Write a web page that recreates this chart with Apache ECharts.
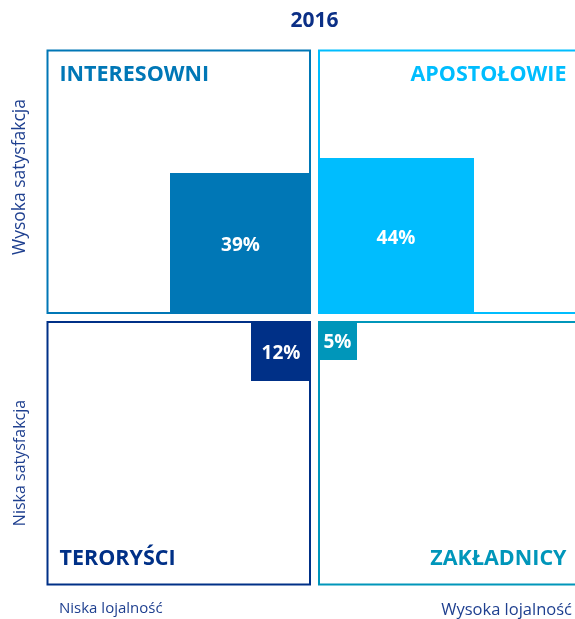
<!DOCTYPE html>
<html>
<head>
<meta charset="utf-8">
<script src="https://cdn.jsdelivr.net/npm/echarts@6/dist/echarts.min.js"></script>
<style>
  html, body { margin: 0; padding: 0; background: #ffffff; }
  #chart { width: 575px; height: 619px; }
</style>
</head>
<body>
<div id="chart"></div>
<script>
// Segments of the loyalty / satisfaction matrix, 2016
const segments = ['INTERESOWNI', 'APOSTOŁOWIE', 'TERORYŚCI', 'ZAKŁADNICY'];
const shares = [39, 44, 12, 5];            // % of customers per segment
const colX = [-1, 1, -1, 1];               // -1 = low loyalty, 1 = high loyalty
const rowY = [1, 1, -1, -1];               // 1 = high satisfaction, -1 = low
const segmentColors = ['#0077b6', '#00bdfe', '#003087', '#0096ba'];
const yearLabel = '2016';
const loyaltyLabels = ['Niska lojalność', 'Wysoka lojalność'];
const satisfactionLabels = ['Wysoka satysfakcja', 'Niska satysfakcja'];

const FONT = '"Open Sans", sans-serif';
const NAVY = '#1e3f8f';

// square side (axis units) grows with the share, with room kept for the label
function sideOf(v) { return 24 + 3 * v; }

const GAP = 3.5;       // half gap between quadrants
const BOX_IN = 4.5;    // inner edge of the quadrant frame
const BOX_OUT = 267;   // outer edge of the quadrant frame

const boxData = segments.map((s, i) => [colX[i], rowY[i], i]);
const squareData = shares.map((v, i) => [colX[i], rowY[i], v, i]);

const chart = echarts.init(document.getElementById('chart'), null, { renderer: 'canvas' });

chart.setOption({
  animation: false,
  backgroundColor: '#ffffff',
  // the right-hand frames run past the page edge
  grid: { left: 46, top: 49, right: 0, bottom: 34, containLabel: false },
  xAxis: { type: 'value', min: -268.5, max: 260.5, show: false },
  yAxis: { type: 'value', min: -267.5, max: 268.5, show: false },
  series: [
    {
      // quadrant frames with their segment names
      type: 'custom',
      coordinateSystem: 'cartesian2d',
      clip: false,
      data: boxData,
      renderItem: function (params, api) {
        const dx = api.value(0), dy = api.value(1), i = api.value(2);
        const pIn = api.coord([dx * BOX_IN, dy * BOX_IN]);
        const pOut = api.coord([dx * BOX_OUT, dy * BOX_OUT]);
        const x = Math.min(pIn[0], pOut[0]);
        const y = Math.min(pIn[1], pOut[1]);
        const w = Math.abs(pOut[0] - pIn[0]);
        const h = Math.abs(pOut[1] - pIn[1]);
        const tx = dx < 0 ? x + 12 : x + w - 15;
        const ty = dy > 0 ? y + 24.5 : y + h - 26;
        return {
          type: 'group',
          children: [
            {
              type: 'rect',
              shape: { x: x, y: y, width: w, height: h },
              style: { fill: 'none', stroke: segmentColors[i], lineWidth: 2 }
            },
            {
              type: 'text',
              x: tx, y: ty,
              style: {
                text: segments[i],
                fill: segmentColors[i],
                font: 'bold 21.5px ' + FONT,
                align: dx < 0 ? 'left' : 'right',
                verticalAlign: 'middle'
              }
            }
          ]
        };
      }
    },
    {
      // share squares anchored at the matrix centre
      type: 'custom',
      coordinateSystem: 'cartesian2d',
      clip: false,
      data: squareData,
      renderItem: function (params, api) {
        const dx = api.value(0), dy = api.value(1), v = api.value(2), i = api.value(3);
        const side = sideOf(v);
        const c0 = api.coord([dx * GAP, dy * GAP]);
        const sz = api.size([side, side]);
        const x = dx < 0 ? c0[0] - sz[0] : c0[0];
        const y = dy > 0 ? c0[1] - sz[1] : c0[1];
        return {
          type: 'group',
          children: [
            {
              type: 'rect',
              shape: { x: x, y: y, width: sz[0], height: sz[1] },
              style: { fill: segmentColors[i] }
            },
            {
              type: 'text',
              x: x + sz[0] / 2, y: y + sz[1] / 2 + 2.5,
              style: {
                text: v + '%',
                fill: '#ffffff',
                font: 'bold 19px ' + FONT,
                align: 'center',
                verticalAlign: 'middle'
              }
            }
          ]
        };
      }
    }
  ],
  graphic: [
    {
      type: 'text', x: 314.5, y: 21,
      style: { text: yearLabel, fill: '#0b2f86', font: 'bold 21px ' + FONT, align: 'center', verticalAlign: 'middle' }
    },
    {
      type: 'text', x: 59, y: 609,
      style: { text: loyaltyLabels[0], fill: NAVY, font: '15px ' + FONT, align: 'left', verticalAlign: 'middle' }
    },
    {
      type: 'text', x: 572, y: 610,
      style: { text: loyaltyLabels[1], fill: NAVY, font: '16.5px ' + FONT, align: 'right', verticalAlign: 'middle' }
    },
    {
      type: 'text', x: 20, y: 177, rotation: Math.PI / 2,
      style: { text: satisfactionLabels[0], fill: NAVY, font: '17.5px ' + FONT, align: 'center', verticalAlign: 'middle' }
    },
    {
      type: 'text', x: 20, y: 463, rotation: Math.PI / 2,
      style: { text: satisfactionLabels[1], fill: NAVY, font: '16px ' + FONT, align: 'center', verticalAlign: 'middle' }
    }
  ]
});
</script>
</body>
</html>
